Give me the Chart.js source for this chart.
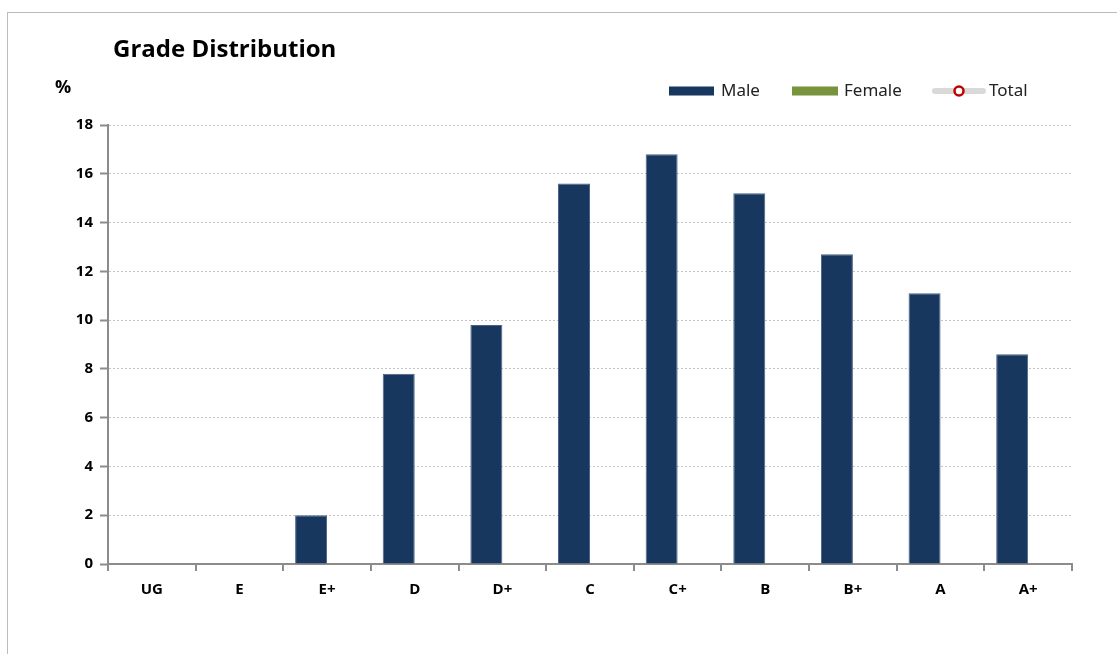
<!DOCTYPE html>
<html>
<head>
<meta charset="utf-8">
<script src="https://cdn.jsdelivr.net/npm/chart.js@4.4.1/dist/chart.umd.min.js"></script>
<style>
  body { margin: 0; background: #fff; }
  #wrap { position: relative; width: 1117px; height: 654px; overflow: hidden; }
  #frame { position: absolute; left: 7px; top: 12px; width: 1130px; height: 680px; border: 1px solid #bcbcbc; }
  canvas { position: absolute; left: 0; top: 0; }
</style>
</head>
<body>
<div id="wrap">
  <div id="frame"></div>
  <canvas id="gradeChart" width="1117" height="654"></canvas>
</div>
<script>
// --- Data ---
const grades = ["UG", "E", "E+", "D", "D+", "C", "C+", "B", "B+", "A", "A+"];
const maleValues = [null, null, 2.0, 7.8, 9.8, 15.6, 16.8, 15.2, 12.7, 11.1, 8.6];
const femaleValues = [null, null, null, null, null, null, null, null, null, null, null];
const totalValues = [null, null, null, null, null, null, null, null, null, null, null];
const yTicks = [0, 2, 4, 6, 8, 10, 12, 14, 16, 18];

const chartTitle = "Grade Distribution";
const yUnit = "%";

// --- Colours ---
const MALE_COLOR = "#17375e";
const FEMALE_COLOR = "#77933c";
const TOTAL_LINE = "#d9d9d9";
const TOTAL_MARK = "#c00000";
const AXIS_COLOR = "#8c8c8c";

const tickFont = { family: "'Open Sans', sans-serif", size: 15, weight: "bold" };

// title, unit and legend drawn on top of the chart
const headerPlugin = {
    id: "header",
    afterDraw(chart) {
        const ctx = chart.ctx;
        ctx.save();
        ctx.fillStyle = "#000";
        ctx.textBaseline = "middle";
        ctx.textAlign = "left";
        ctx.font = "bold 24px 'Open Sans', sans-serif";
        ctx.fillText(chartTitle, 113, 50);
        ctx.font = "bold 18px 'Open Sans', sans-serif";
        ctx.fillText(yUnit, 55, 88);

        // legend
        const ds = chart.data.datasets;
        const y = 91;
        ctx.font = "17px 'Noto Sans', sans-serif";
        ctx.fillStyle = ds[0].backgroundColor;
        ctx.fillRect(669, y - 4.5, 45, 9);
        ctx.fillStyle = "#222";
        ctx.fillText(ds[0].label, 721, y);

        ctx.fillStyle = ds[1].backgroundColor;
        ctx.fillRect(792, y - 4.5, 46, 9);
        ctx.fillStyle = "#222";
        ctx.fillText(ds[1].label, 844, y);

        ctx.strokeStyle = ds[2].borderColor;
        ctx.lineWidth = 6;
        ctx.lineCap = "round";
        ctx.beginPath();
        ctx.moveTo(935, y);
        ctx.lineTo(983, y);
        ctx.stroke();
        ctx.beginPath();
        ctx.arc(959, y, 4.5, 0, Math.PI * 2);
        ctx.fillStyle = "#fff";
        ctx.fill();
        ctx.lineWidth = 2.5;
        ctx.strokeStyle = ds[2].pointBorderColor;
        ctx.stroke();
        ctx.fillStyle = "#222";
        ctx.fillText(ds[2].label, 989, y);
        ctx.restore();
    }
};

const ctx = document.getElementById("gradeChart").getContext("2d");

const gradeChart = new Chart(ctx, {
    type: "bar",
    data: {
        labels: grades,
        datasets: [
            {
                label: "Male",
                data: maleValues,
                backgroundColor: MALE_COLOR,
                borderColor: "#4a6285",
                borderWidth: 1,
                categoryPercentage: 0.73,
                barPercentage: 1.0
            },
            {
                label: "Female",
                data: femaleValues,
                backgroundColor: FEMALE_COLOR,
                categoryPercentage: 0.73,
                barPercentage: 1.0
            },
            {
                type: "line",
                label: "Total",
                data: totalValues,
                borderColor: TOTAL_LINE,
                borderWidth: 6,
                pointRadius: 4.5,
                pointBackgroundColor: "#fff",
                pointBorderColor: TOTAL_MARK,
                pointBorderWidth: 2.5
            }
        ]
    },
    options: {
        responsive: false,
        animation: false,
        layout: { padding: { left: 0, right: 45, top: 125, bottom: 0 } },
        plugins: {
            legend: { display: false },
            title: { display: false },
            tooltip: { enabled: false }
        },
        scales: {
            x: {
                afterFit: (scale) => { scale.height = 90; },
                grid: {
                    offset: true,
                    drawOnChartArea: false,
                    color: AXIS_COLOR,
                    lineWidth: 2,
                    tickLength: 7
                },
                border: { color: AXIS_COLOR, width: 2 },
                ticks: { color: "#000", font: tickFont, padding: 10 }
            },
            y: {
                min: 0,
                max: 18,
                afterFit: (scale) => { scale.width = 108; },
                afterBuildTicks: (scale) => { scale.ticks = yTicks.map(v => ({ value: v })); },
                grid: {
                    color: "#c4c4c4",
                    tickColor: AXIS_COLOR,
                    tickWidth: 2,
                    tickLength: 8,
                    lineWidth: 1
                },
                border: { color: AXIS_COLOR, width: 2, dash: [2, 2] },
                ticks: { color: "#000", font: tickFont, padding: 7 }
            }
        }
    },
    plugins: [headerPlugin]
});
</script>
</body>
</html>
